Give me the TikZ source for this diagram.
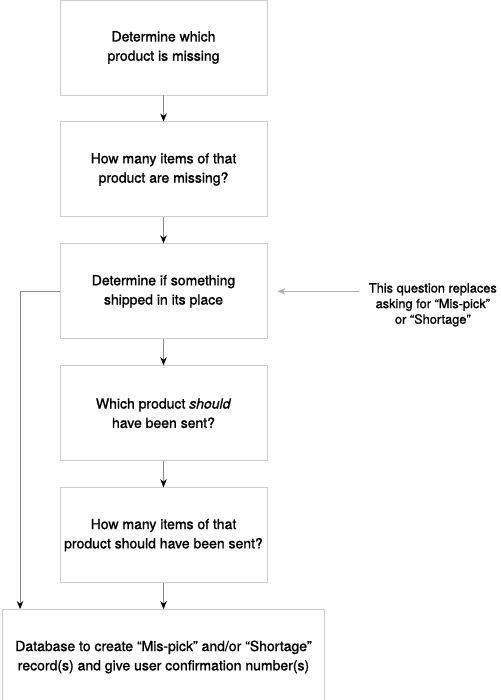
\documentclass[tikz,border=0pt]{standalone}
\usepackage{fontspec}
\setmainfont{TeX Gyre Heros}
\newfontfamily\medfont{TeX Gyre Heros}[FakeBold=1.2, Ligatures=TeX]
\definecolor{boxgray}{RGB}{205, 205, 205}
\definecolor{linegray}{RGB}{140, 140, 140}
\definecolor{notegray}{RGB}{175, 175, 175}
\usetikzlibrary{arrows.meta, positioning}

\begin{document}
\begin{tikzpicture}[x=1pt, y=1pt,
  stepbox/.style={draw=boxgray, line width=0.9pt, minimum width=207pt, minimum height=95pt,
    inner sep=0pt, align=center, font=\fontsize{14}{19.3}\selectfont\medfont},
  flow/.style={draw=linegray, line width=0.9pt, -{Stealth[length=8pt, width=6.5pt, black]}},
  noteflow/.style={draw=notegray, line width=1pt, -{Stealth[length=8pt, width=6.5pt, notegray]}},
  notetext/.style={inner sep=0pt, align=center, font=\fontsize{12.8}{15.6}\selectfont\medfont}]
  \useasboundingbox (0,0) rectangle (500,-700);

  \node[stepbox] (find) at (163.5,-47.5) {Determine which\\product is missing};
  \node[stepbox, below=26pt of find] (count) {How many items of that\\product are missing?};
  \node[stepbox, below=26pt of count] (check) {Determine if something\\shipped in its place};
  \node[stepbox, below=26pt of check] (should) {Which product \textit{should}\\have been sent?};
  \node[stepbox, below=26pt of should] (sent) {How many items of that\\product should have been sent?};
  \node[stepbox, minimum width=322pt, below=26pt of sent] (db)
    {Database to create “Mis-pick” and/or “Shortage”\\record(s) and give user confirmation number(s)};

  % side note
  \node[notetext, anchor=north east] (note) at (497,-283)
    {This question replaces\\asking for “Mis-pick”\\or “Shortage”};
  \coordinate (notetail) at ([xshift=-10pt]note.west |- check.east);
  \draw[noteflow] (notetail) -- ([xshift=10pt]check.east);

  % arrows
  \foreach \a/\b in {find/count, count/check, check/should, should/sent, sent/db}
    \draw[flow] (\a.south) -- (\a.south |- \b.north);
  \draw[flow] (check.west) -| ([xshift=18pt]db.north west);
\end{tikzpicture}
\end{document}
